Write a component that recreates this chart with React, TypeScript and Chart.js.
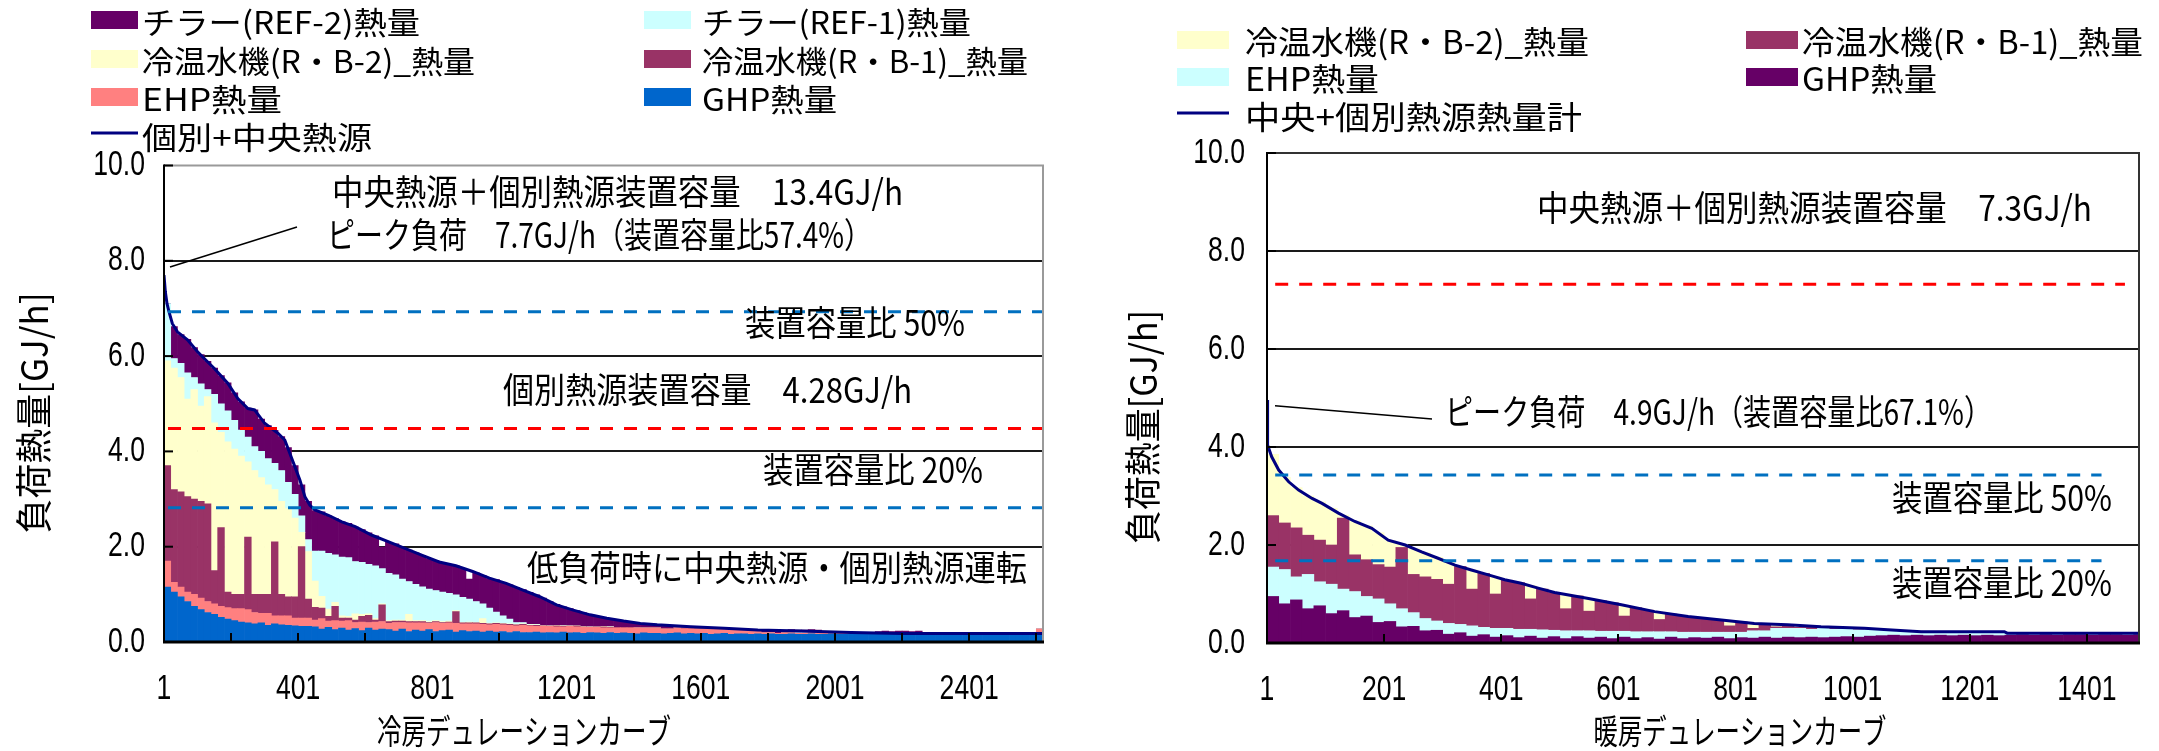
import React, { useEffect, useRef } from "react";
import { Chart, registerables } from "chart.js";

Chart.register(...registerables);

const BIN_HOURS = 20;

// ================= 冷房 (cooling) =================
const coolSeriesLabels = ["GHP熱量", "EHP熱量", "冷温水機(R・B-1)_熱量", "冷温水機(R・B-2)_熱量", "チラー(REF-1)熱量", "チラー(REF-2)熱量"];
const coolSeriesColors = ["#0066CC", "#FF8080", "#993366", "#FFFFCC", "#CCFFFF", "#660066"];
const coolLineLabel = "個別+中央熱源";

const coolGHP = [
  1.15, 1.05, 0.95, 0.85, 0.75, 0.68, 0.62, 0.58, 0.52, 0.48,
  0.45, 0.42, 0.40, 0.38, 0.40, 0.35, 0.38, 0.36, 0.35, 0.34, 0.33, 0.33,
  0.32, 0.27, 0.31, 0.26, 0.29, 0.25, 0.28, 0.24, 0.29, 0.25, 0.27,
  0.26, 0.23, 0.27, 0.22, 0.25, 0.23, 0.26, 0.22, 0.24, 0.25, 0.21, 0.24, 0.22, 0.23, 0.21, 0.23, 0.21, 0.22, 0.20, 0.22, 0.20,
  0.20, 0.21, 0.19, 0.20, 0.19, 0.21, 0.19, 0.20, 0.18, 0.20, 0.19, 0.18, 0.20,
  0.18, 0.19, 0.18, 0.17, 0.19, 0.18, 0.18, 0.17, 0.18, 0.19, 0.17, 0.18, 0.17, 0.18, 0.16, 0.17, 0.18, 0.16, 0.17, 0.17, 0.16, 0.17,
  0.16, 0.17, 0.16, 0.16, 0.17, 0.16, 0.16, 0.17, 0.16, 0.16, 0.17, 0.16, 0.16, 0.17, 0.16, 0.16, 0.17, 0.16, 0.17, 0.16, 0.17,
  0.17, 0.16, 0.17, 0.17, 0.17, 0.16, 0.17, 0.17, 0.17, 0.17, 0.17, 0.16, 0.17, 0.17, 0.17, 0.17, 0.17, 0.17, 0.17, 0.17, 0.17,
];
const coolEHP = [
  0.55, 0.20, 0.20, 0.20, 0.25, 0.24, 0.23, 0.22, 0.23, 0.24,
  0.25, 0.28, 0.28, 0.24, 0.20, 0.25, 0.17, 0.19, 0.20, 0.16, 0.17, 0.17,
  0.14, 0.22, 0.13, 0.19, 0.15, 0.20, 0.13, 0.18, 0.12, 0.17, 0.16,
  0.13, 0.18, 0.14, 0.18, 0.15, 0.17, 0.13, 0.19, 0.15, 0.15, 0.18, 0.14, 0.16, 0.15, 0.16, 0.13, 0.16, 0.14, 0.15, 0.12, 0.15,
  0.14, 0.12, 0.14, 0.13, 0.13, 0.11, 0.14, 0.12, 0.13, 0.11, 0.12, 0.12, 0.10,
  0.12, 0.11, 0.12, 0.13, 0.10, 0.11, 0.11, 0.10, 0.09, 0.10, 0.11, 0.10, 0.10, 0.09, 0.11, 0.10, 0.09, 0.10, 0.09, 0.08, 0.08, 0.07,
  0.03, 0.03, 0.02, 0.03, 0.02, 0.02, 0.02, 0.02, 0.02, 0.02, 0.02, 0.01, 0.02, 0.01, 0.02, 0.01, 0.01, 0.01, 0.01, 0.01, 0.01,
  0.01, 0.01, 0.01, 0.01, 0.00, 0.01, 0.00, 0.01, 0.00, 0.00, 0.01, 0.00, 0.00, 0.00, 0.00, 0.00, 0.00, 0.00, 0.00, 0.00, 0.10,
];
const coolRB1 = [
  2.00, 1.95, 2.00, 2.00, 2.00, 2.03, 2.05, 0.70, 1.65, 0.33,
  0.30, 0.30, 1.52, 0.38, 0.40, 0.40, 1.55, 0.45, 0.40, 0.45, 1.50, 0.40,
  0.27, 0.22, 0.10, 0.30, 0.06, 0.05, 0.05, 0.12, 0.15, 0.04, 0.35,
  0.04, 0.03, 0.03, 0.03, 0.03, 0.03, 0.02, 0.02, 0.02, 0.02, 0.25, 0.02, 0.02, 0.02, 0.02, 0.02, 0.02, 0.02, 0.02, 0.02, 0.02,
  0.01, 0.02, 0.01, 0.01, 0.02, 0.01, 0.01, 0.02, 0.01, 0.01, 0.01, 0.02, 0.01,
  0.01, 0.01, 0.01, 0.00, 0.01, 0.01, 0.01, 0.01, 0.01, 0.01, 0.01, 0.01, 0.01, 0.01, 0.01, 0.01, 0.01, 0.01, 0.00, 0.00, 0.00, 0.00,
  0, 0, 0, 0, 0, 0, 0, 0, 0, 0, 0, 0, 0, 0, 0, 0, 0, 0, 0, 0, 0,
  0, 0, 0, 0, 0, 0, 0, 0, 0, 0, 0, 0, 0, 0, 0, 0, 0, 0, 0, 0, 0,
];
const coolRB2 = [
  2.20, 2.55, 2.40, 2.05, 2.30, 2.00, 2.25, 3.10, 2.00, 3.15,
  3.05, 2.90, 1.58, 2.60, 2.45, 2.30, 1.10, 1.95, 1.85, 1.65, 0.30, 1.00,
  0.55, 0.25, 0.15, 0.08, 0.05, 0.04, 0.13, 0.04, 0.03, 0.03, 0.02,
  0.02, 0.02, 0.02, 0.15, 0.02, 0.02, 0.02, 0.02, 0.02, 0.02, 0.02, 0.01, 0.02, 0.01, 0.10, 0.01, 0.01, 0.01, 0.01, 0.01, 0.01,
  0.01, 0.01, 0.01, 0.00, 0.01, 0.01, 0.00, 0.00, 0.01, 0.00, 0.00, 0.01, 0.01,
  0, 0, 0, 0, 0, 0, 0, 0, 0, 0, 0, 0, 0, 0, 0, 0, 0, 0, 0, 0, 0, 0,
  0, 0, 0, 0, 0, 0, 0, 0, 0, 0, 0, 0, 0, 0, 0, 0, 0, 0, 0, 0, 0,
  0, 0, 0, 0, 0, 0, 0, 0, 0, 0, 0, 0, 0, 0, 0, 0, 0, 0, 0, 0, 0,
];
const coolREF1 = [
  1.20, 0.20, 0.30, 0.55, 0.25, 0.47, 0.15, 0.60, 0.60, 0.65,
  0.60, 0.55, 0.52, 0.50, 0.55, 0.55, 0.55, 0.65, 0.55, 0.50, 0.35, 0.25,
  0.63, 0.95, 1.17, 1.00, 1.23, 1.23, 1.10, 1.09, 1.04, 1.11, 0.74,
  0.99, 0.95, 0.86, 0.69, 0.76, 0.71, 0.68, 0.63, 0.62, 0.58, 0.33, 0.53, 0.48, 0.44, 0.31, 0.32, 0.23, 0.16, 0.10, 0.04, 0.03,
  0.01, 0.01, 0.00, 0.01, 0.00, 0.00, 0.01, 0.00, 0.00, 0.01, 0.00, 0.00, 0.00,
  0, 0, 0, 0, 0, 0, 0, 0, 0, 0, 0, 0, 0, 0, 0, 0, 0, 0, 0, 0, 0, 0,
  0, 0, 0, 0, 0.02, 0.02, 0.02, 0.02, 0.02, 0, 0, 0, 0, 0, 0, 0, 0, 0, 0, 0, 0,
  0, 0, 0, 0, 0, 0, 0, 0, 0, 0, 0, 0, 0, 0, 0, 0, 0, 0, 0, 0, 0,
];
const coolREF2 = [
  0.00, 0.67, 0.60, 0.70, 0.63, 0.61, 0.59, 0.55, 0.59, 0.59,
  0.58, 0.59, 0.61, 0.77, 0.68, 0.69, 0.69, 0.71, 0.73, 0.60, 0.65, 0.80,
  0.85, 0.82, 0.79, 0.76, 0.74, 0.72, 0.72, 0.69, 0.66, 0.63, 0.45,
  0.65, 0.65, 0.66, 0.66, 0.66, 0.66, 0.64, 0.63, 0.61, 0.61, 0.61, 0.60, 0.42, 0.60, 0.60, 0.62, 0.68, 0.70, 0.72, 0.73, 0.69,
  0.67, 0.62, 0.57, 0.50, 0.44, 0.40, 0.35, 0.32, 0.28, 0.24, 0.22, 0.19, 0.17,
  0.15, 0.13, 0.11, 0.09, 0.08, 0.07, 0.06, 0.06, 0.05, 0.05, 0.04, 0.03, 0.04, 0.03, 0.02, 0.02, 0.01, 0.01, 0.01, 0.01, 0.01, 0.01,
  0.04, 0.04, 0.04, 0.04, 0.05, 0.05, 0.05, 0.05, 0.05, 0.02, 0.02, 0.02, 0.02, 0.02, 0.02, 0.02, 0.02, 0.05, 0.05, 0.05, 0.05,
  0.05, 0.05, 0.05, 0, 0, 0, 0, 0, 0, 0, 0, 0, 0, 0, 0, 0, 0, 0, 0, 0, 0,
];
const coolTotalHours = [
  1, 5, 10, 16, 26, 41, 71, 101, 121, 151, 191, 221, 251, 271, 301, 341, 361, 376, 391, 406,
  421, 436, 451, 491, 531, 571, 621, 671, 721, 771, 821, 871, 921, 971, 1021, 1071, 1121, 1171, 1221, 1271,
  1321, 1371, 1421, 1471, 1571, 1671, 1771, 1900, 2050, 2200, 2621,
];
const coolTotalValues = [
  7.70, 7.35, 7.10, 6.93, 6.68, 6.51, 6.34, 6.09, 5.95, 5.74, 5.43, 5.11, 4.90, 4.87, 4.59, 4.38, 4.24, 3.96, 3.68, 3.40,
  3.05, 2.87, 2.77, 2.66, 2.52, 2.42, 2.24, 2.10, 1.96, 1.82, 1.68, 1.60, 1.48, 1.34, 1.23, 1.09, 0.95, 0.78, 0.67, 0.57,
  0.50, 0.44, 0.39, 0.36, 0.32, 0.29, 0.25, 0.23, 0.20, 0.18, 0.18,
];
const coolTickLabels = [1, 401, 801, 1201, 1601, 2001, 2401];
const coolRefValues = [6.93, 4.48, 2.82];
const coolRefColors = ["#0070C0", "#FF0000", "#0070C0"];
const coolRefStart = [13, 13, 13];
const coolRefEnd = [2621, 2621, 2621];

// ================= 暖房 (heating) =================
const heatSeriesLabels = ["GHP熱量", "EHP熱量", "冷温水機(R・B-1)_熱量", "冷温水機(R・B-2)_熱量"];
const heatSeriesColors = ["#660066", "#CCFFFF", "#993366", "#FFFFCC"];
const heatLineLabel = "中央+個別熱源熱量計";

const heatGHP = [
  0.95, 0.80, 0.88, 0.70, 0.76, 0.60, 0.66, 0.52, 0.55, 0.42,
  0.44, 0.33, 0.34, 0.25, 0.26, 0.18, 0.21, 0.14, 0.17, 0.12,
  0.15, 0.11, 0.14, 0.10, 0.13, 0.09, 0.13, 0.10, 0.12, 0.09,
  0.12, 0.09, 0.11, 0.08, 0.12, 0.09, 0.11, 0.10, 0.12, 0.09,
  0.11, 0.10, 0.12, 0.10, 0.12, 0.11, 0.12, 0.11, 0.12, 0.13, 0.12, 0.14,
  0.15, 0.16, 0.15, 0.16, 0.15, 0.16, 0.15, 0.16, 0.15, 0.16, 0.15, 0.16, 0.17, 0.16, 0.17, 0.16, 0.17, 0.17, 0.16, 0.17, 0.17, 0.16, 0.17,
];
const heatEHP = [
  0.60, 0.70, 0.47, 0.70, 0.49, 0.60, 0.44, 0.53, 0.40, 0.48,
  0.36, 0.37, 0.28, 0.25, 0.19, 0.22, 0.17, 0.21, 0.15, 0.18,
  0.15, 0.17, 0.14, 0.17, 0.13, 0.16, 0.12, 0.15, 0.12, 0.15,
  0.12, 0.14, 0.12, 0.15, 0.11, 0.13, 0.11, 0.12, 0.10, 0.13,
  0.11, 0.15, 0.13, 0.20, 0.18, 0.19, 0.16, 0.19, 0.16, 0.16, 0.15, 0.13,
  0.11, 0.09, 0.09, 0.07, 0.07, 0.06, 0.07, 0.06, 0.07, 0.06, 0.07, 0.03, 0.02, 0.03, 0.02, 0.03, 0.02, 0.02, 0.03, 0.02, 0.02, 0.03, 0.02,
];
const heatRB1 = [
  1.05, 0.95, 1.00, 0.80, 0.85, 0.80, 1.45, 0.75, 0.75, 0.70,
  0.75, 1.25, 0.78, 0.85, 0.85, 0.80, 1.18, 0.75, 1.10, 0.70,
  0.98, 0.95, 0.62, 0.83, 0.77, 0.45, 0.71, 0.40, 0.62, 0.58,
  0.31, 0.49, 0.44, 0.25, 0.36, 0.33, 0.30, 0.28, 0.25, 0.13,
  0.21, 0.05, 0.14, 0.03, 0.07, 0.02, 0.06, 0.01, 0.04, 0.01, 0.02, 0.00,
  0.01, 0.01, 0.00, 0.01, 0.01, 0.00, 0.01, 0.00, 0.00, 0.01, 0.00, 0, 0, 0, 0, 0, 0, 0, 0, 0, 0, 0, 0,
];
const heatRB2 = [
  1.25, 0.93, 0.82, 0.80, 0.78, 0.75, 0.06, 0.69, 0.69, 0.65,
  0.54, 0.07, 0.53, 0.49, 0.45, 0.45, 0.00, 0.39, 0.00, 0.35,
  0.00, 0.00, 0.27, 0.00, 0.00, 0.30, 0.00, 0.26, 0.00, 0.00,
  0.22, 0.00, 0.00, 0.15, 0.00, 0.00, 0.00, 0.00, 0.00, 0.10,
  0.00, 0.11, 0.00, 0.05, 0.00, 0.03, 0.00, 0.02, 0.00, 0.01, 0.00, 0.01,
  0, 0, 0, 0, 0, 0, 0, 0, 0, 0, 0, 0, 0, 0, 0, 0, 0, 0, 0, 0, 0, 0, 0,
];
const heatTotalHours = [
  1, 2, 9, 21, 38, 55, 78, 95, 123, 151, 180, 208, 237, 265, 293, 322, 350, 379, 407, 435,
  464, 492, 550, 606, 663, 720, 777, 833, 890, 947, 1021, 1061, 1118, 1260, 1265, 1490,
];
const heatTotalValues = [
  4.96, 4.04, 3.80, 3.53, 3.29, 3.12, 2.95, 2.85, 2.65, 2.48, 2.34, 2.10, 2.00, 1.86, 1.73, 1.59, 1.49, 1.39, 1.29, 1.22,
  1.12, 1.03, 0.91, 0.78, 0.64, 0.54, 0.47, 0.40, 0.37, 0.33, 0.30, 0.27, 0.23, 0.23, 0.20, 0.20,
];
const heatTickLabels = [1, 201, 401, 601, 801, 1001, 1201, 1401];
const heatRefValues = [7.32, 3.43, 1.68];
const heatRefColors = ["#FF0000", "#0070C0", "#0070C0"];
const heatRefStart = [15, 15, 15];
const heatRefEnd = [1466, 1426, 1426];

// ================= drawing helpers =================
const FONT_CJK = "'Noto Sans CJK JP', 'Noto Sans', sans-serif";
const FONT_TICK = "'Liberation Sans', Arimo, 'Noto Sans CJK JP', sans-serif";

function fillFit(ctx: any, text: string, x: number, y: number, w: number, font: string) {
  ctx.save();
  ctx.font = font;
  ctx.fillStyle = "#000";
  ctx.textAlign = "left";
  ctx.textBaseline = "middle";
  const m = ctx.measureText(text).width || 1;
  ctx.translate(x, y);
  ctx.scale(w / m, 1);
  ctx.fillText(text, 0, 0);
  ctx.restore();
}

function fillScaled(ctx: any, text: string, x: number, y: number, sx: number, align: string, font: string) {
  ctx.save();
  ctx.font = font;
  ctx.fillStyle = "#000";
  ctx.textAlign = align;
  ctx.textBaseline = "middle";
  ctx.translate(x, y);
  ctx.scale(sx, 1);
  ctx.fillText(text, 0, 0);
  ctx.restore();
}

function fillFitRotated(ctx: any, text: string, cx: number, cy: number, len: number, font: string) {
  ctx.save();
  ctx.font = font;
  ctx.fillStyle = "#000";
  ctx.textAlign = "center";
  ctx.textBaseline = "middle";
  const m = ctx.measureText(text).width || 1;
  ctx.translate(cx, cy);
  ctx.rotate(-Math.PI / 2);
  ctx.scale(len / m, 1);
  ctx.fillText(text, 0, 0);
  ctx.restore();
}

function makeOverlay(spec: any) {
  return {
    id: "overlay",
    beforeDraw(chart: any) {
      const { ctx, width, height } = chart;
      ctx.save();
      ctx.fillStyle = "#fff";
      ctx.fillRect(0, 0, width, height);
      ctx.restore();
    },
    afterDatasetsDraw(chart: any) {
      const { ctx, chartArea: a, scales } = chart;
      const xs = scales.x;
      const ys = scales.y;
      ctx.save();
      ctx.lineCap = "butt";
      ctx.strokeStyle = spec.frameColor;
      ctx.lineWidth = 2;
      ctx.beginPath();
      ctx.moveTo(a.left, a.top);
      ctx.lineTo(a.right, a.top);
      ctx.lineTo(a.right, a.bottom);
      ctx.stroke();
      ctx.strokeStyle = "#000";
      ctx.lineWidth = 2;
      ctx.beginPath();
      ctx.moveTo(a.left, a.top - 1);
      ctx.lineTo(a.left, a.bottom);
      ctx.stroke();
      ctx.lineWidth = 3;
      ctx.beginPath();
      ctx.moveTo(a.left - 1, a.bottom);
      ctx.lineTo(a.right + 1, a.bottom);
      ctx.stroke();
      ctx.lineWidth = 2;
      for (let h = 1; h <= xs.max; h += spec.tickStep) {
        const px = Math.round(xs.getPixelForValue(h));
        ctx.beginPath();
        ctx.moveTo(px, a.bottom);
        ctx.lineTo(px, a.bottom - 9);
        ctx.stroke();
      }
      for (const t of ys.ticks) {
        const py = ys.getPixelForValue(t.value);
        ctx.beginPath();
        ctx.moveTo(a.left, py);
        ctx.lineTo(a.left + 9, py);
        ctx.stroke();
      }
      ctx.lineWidth = 1.5;
      ctx.beginPath();
      ctx.moveTo(spec.leader[0], spec.leader[1]);
      ctx.lineTo(spec.leader[2], spec.leader[3]);
      ctx.stroke();
      ctx.restore();
      for (const n of spec.notes) fillFit(ctx, n.text, n.x, n.y, n.w, `35px ${FONT_CJK}`);
    },
    afterDraw(chart: any) {
      const { ctx, chartArea: a, scales } = chart;
      const xs = scales.x;
      const ys = scales.y;
      const tf = `${spec.tickFont}px ${FONT_TICK}`;
      for (const t of ys.ticks) {
        fillScaled(ctx, Number(t.value).toFixed(1), a.left - spec.yLabelGap, ys.getPixelForValue(t.value), spec.tickScale, "right", tf);
      }
      for (const t of xs.ticks) {
        fillScaled(ctx, String(t.value), xs.getPixelForValue(t.value), spec.xLabelY, spec.tickScale, "center", tf);
      }
      const lg = spec.legend;
      for (const it of lg.items) {
        const ds = chart.data.datasets[it.ds];
        const x0 = lg.swX[it.col];
        const yc = lg.rowY[it.row];
        ctx.save();
        if (ds.type === "line") {
          ctx.strokeStyle = ds.borderColor;
          ctx.lineWidth = 3;
          ctx.beginPath();
          ctx.moveTo(x0, yc - 3);
          ctx.lineTo(x0 + lg.swW, yc - 3);
          ctx.stroke();
        } else {
          ctx.fillStyle = ds.backgroundColor;
          ctx.fillRect(x0, yc - 10, lg.swW, 18);
        }
        ctx.restore();
        fillFit(ctx, ds.label, lg.txX[it.col], yc + 1, it.w, `${lg.font}px ${FONT_CJK}`);
      }
      fillFitRotated(ctx, spec.yTitle.text, spec.yTitle.x, spec.yTitle.y, spec.yTitle.len, `37px ${FONT_CJK}`);
      fillFit(ctx, spec.xTitle.text, spec.xTitle.x - spec.xTitle.w / 2, spec.xTitle.y, spec.xTitle.w, `34px ${FONT_CJK}`);
    },
  };
}

function binData(values: number[]) {
  return values.map((v, i) => ({ x: 1 + i * BIN_HOURS + BIN_HOURS / 2, y: v }));
}

function buildConfig(spec: any) {
  const bars = spec.series.map((vals: number[], i: number) => ({
    type: "bar",
    label: spec.labels[i],
    data: binData(vals),
    backgroundColor: spec.colors[i],
    borderWidth: 0,
    barPercentage: 1,
    categoryPercentage: 1,
    order: 1,
  }));
  const total = {
    type: "line",
    label: spec.lineLabel,
    data: spec.totalHours.map((h: number, i: number) => ({ x: h, y: spec.totalValues[i] })),
    borderColor: "#000080",
    backgroundColor: "#000080",
    borderWidth: 3,
    pointRadius: 0,
    tension: 0,
    fill: false,
    stack: "total",
    order: -1,
  };
  const refs = spec.refValues.map((v: number, i: number) => ({
    type: "line",
    label: "ref" + i,
    data: [
      { x: spec.refStart[i], y: v },
      { x: spec.refEnd[i], y: v },
    ],
    borderColor: spec.refColors[i],
    borderWidth: 3,
    borderDash: [13, 11],
    pointRadius: 0,
    fill: false,
    stack: "ref" + i,
    order: -2,
  }));
  return {
    type: "bar",
    data: { datasets: [...bars, total, ...refs] },
    options: {
      animation: false,
      responsive: false,
      devicePixelRatio: 1,
      events: [],
      layout: { padding: { top: spec.box.top, right: spec.box.right, left: 0, bottom: 0 } },
      plugins: { legend: { display: false }, tooltip: { enabled: false }, title: { display: false } },
      scales: {
        x: {
          type: "linear",
          min: 1,
          max: spec.xMax,
          offset: false,
          stacked: true,
          grid: { display: false, drawTicks: false, offset: false },
          border: { display: false },
          ticks: { display: false, autoSkip: false, maxRotation: 0, minRotation: 0 },
          afterBuildTicks: (s: any) => {
            s.ticks = spec.tickLabels.map((v: number) => ({ value: v }));
          },
          afterFit: (s: any) => {
            s.height = spec.box.xHeight;
          },
        },
        y: {
          min: 0,
          max: 10,
          stacked: true,
          grid: {
            drawTicks: false,
            lineWidth: 2,
            color: (c: any) => (c.tick && (c.tick.value === 0 || c.tick.value === 10) ? "rgba(0,0,0,0)" : "#1a1a1a"),
          },
          border: { display: false },
          ticks: { display: false, stepSize: 2 },
          afterFit: (s: any) => {
            s.width = spec.box.yWidth;
          },
        },
      },
    },
    plugins: [makeOverlay(spec)],
  };
}

const coolSpec = {
  series: [coolGHP, coolEHP, coolRB1, coolRB2, coolREF1, coolREF2],
  labels: coolSeriesLabels,
  colors: coolSeriesColors,
  lineLabel: coolLineLabel,
  totalHours: coolTotalHours,
  totalValues: coolTotalValues,
  tickLabels: coolTickLabels,
  refValues: coolRefValues,
  refColors: coolRefColors,
  refStart: coolRefStart,
  refEnd: coolRefEnd,
  xMax: 2621,
  tickStep: 200,
  box: { yWidth: 164, xHeight: 109, top: 165.5, right: 37 },
  tickFont: 35,
  tickScale: 0.76,
  yLabelGap: 19,
  xLabelY: 689,
  frameColor: "#9a9a9a",
  leader: [297, 227, 170, 267],
  notes: [
    { text: "中央熱源＋個別熱源装置容量　13.4GJ/h", x: 332, y: 192, w: 571 },
    { text: "ピーク負荷　7.7GJ/h（装置容量比57.4%）", x: 327, y: 235, w: 545 },
    { text: "装置容量比 50%", x: 745, y: 323, w: 220 },
    { text: "個別熱源装置容量　4.28GJ/h", x: 503, y: 390, w: 409 },
    { text: "装置容量比 20%", x: 763, y: 470, w: 220 },
    { text: "低負荷時に中央熱源・個別熱源運転", x: 527, y: 568, w: 500 },
  ],
  legend: {
    swX: [91, 644],
    swW: 47,
    txX: [142, 702],
    rowY: [21, 60, 98, 136],
    font: 31,
    items: [
      { ds: 5, col: 0, row: 0, w: 278 },
      { ds: 4, col: 1, row: 0, w: 269 },
      { ds: 3, col: 0, row: 1, w: 333 },
      { ds: 2, col: 1, row: 1, w: 326 },
      { ds: 1, col: 0, row: 2, w: 140 },
      { ds: 0, col: 1, row: 2, w: 135 },
      { ds: 6, col: 0, row: 3, w: 230 },
    ],
  },
  yTitle: { text: "負荷熱量[GJ/h]", x: 34, y: 413, len: 241 },
  xTitle: { text: "冷房デュレーションカーブ", x: 524, y: 731, w: 294 },
};

const heatSpec = {
  series: [heatGHP, heatEHP, heatRB1, heatRB2],
  labels: heatSeriesLabels,
  colors: heatSeriesColors,
  lineLabel: heatLineLabel,
  totalHours: heatTotalHours,
  totalValues: heatTotalValues,
  tickLabels: heatTickLabels,
  refValues: heatRefValues,
  refColors: heatRefColors,
  refStart: heatRefStart,
  refEnd: heatRefEnd,
  xMax: 1490,
  tickStep: 200,
  box: { yWidth: 187, xHeight: 108, top: 153, right: 20 },
  tickFont: 35,
  tickScale: 0.76,
  yLabelGap: 22,
  xLabelY: 690,
  frameColor: "#333333",
  leader: [195, 405.7, 352, 419],
  notes: [
    { text: "中央熱源＋個別熱源装置容量　7.3GJ/h", x: 457, y: 208, w: 555 },
    { text: "ピーク負荷　4.9GJ/h（装置容量比67.1%）", x: 365, y: 412, w: 547 },
    { text: "装置容量比 50%", x: 812, y: 498, w: 220 },
    { text: "装置容量比 20%", x: 812, y: 583, w: 220 },
  ],
  legend: {
    swX: [97, 666],
    swW: 52,
    txX: [165, 722],
    rowY: [41, 78, 116],
    font: 32,
    items: [
      { ds: 3, col: 0, row: 0, w: 344 },
      { ds: 2, col: 1, row: 0, w: 341 },
      { ds: 1, col: 0, row: 1, w: 134 },
      { ds: 0, col: 1, row: 1, w: 135 },
      { ds: 4, col: 0, row: 2, w: 337 },
    ],
  },
  yTitle: { text: "負荷熱量[GJ/h]", x: 63, y: 427, len: 234 },
  xTitle: { text: "暖房デュレーションカーブ", x: 660, y: 731, w: 293 },
};

function DurationChart({ spec, left, width }: { spec: any; left: number; width: number }) {
  const ref = useRef<HTMLCanvasElement | null>(null);
  useEffect(() => {
    if (!ref.current) return;
    const chart = new Chart(ref.current, buildConfig(spec) as any);
    return () => chart.destroy();
  }, [spec]);
  return (
    <canvas
      ref={ref}
      width={width}
      height={751}
      style={{ position: "absolute", left, top: 0, width, height: 751, display: "block" }}
    />
  );
}

export default function App() {
  return (
    <div style={{ position: "fixed", left: 0, top: 0, width: 2159, height: 751, background: "#fff", overflow: "hidden" }}>
      <DurationChart spec={coolSpec} left={0} width={1080} />
      <DurationChart spec={heatSpec} left={1080} width={1079} />
    </div>
  );
}
